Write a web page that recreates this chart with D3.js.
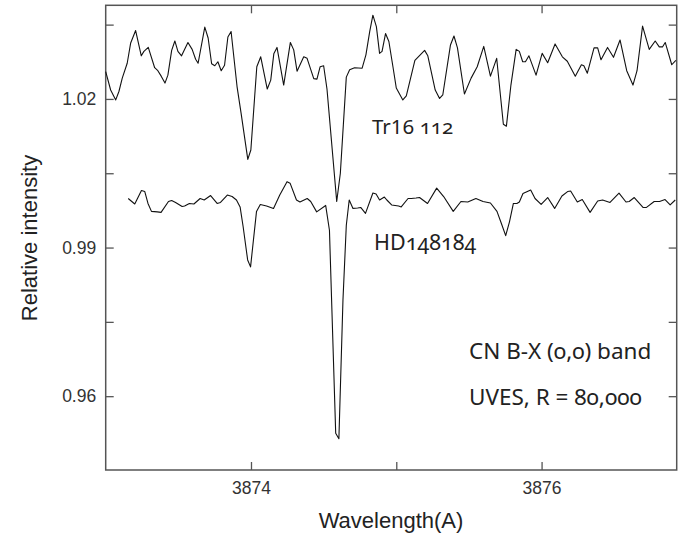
<!DOCTYPE html>
<html>
<head>
<meta charset="utf-8">
<script src="https://cdn.jsdelivr.net/npm/d3@7"></script>
<style>
  body { margin: 0; background: #fff; }
  .tickText { font-family: "Liberation Sans", Arial, sans-serif; font-size: 17.5px; fill: #333; }
  .aText { font-family: "Liberation Sans", Arial, sans-serif; font-size: 22px; fill: #222; }
  .note { font-family: "Noto Sans", "Open Sans", sans-serif; font-size: 20.5px; fill: #222; font-variant-numeric: oldstyle-nums; }
  .note.big { font-size: 22.5px; }
</style>
</head>
<body>
<div id="chart"></div>
<script>
// Tr16 112 spectrum (upper curve)
var tr16Wave = [3873.000, 3873.034, 3873.069, 3873.091, 3873.114, 3873.148, 3873.172, 3873.206, 3873.245, 3873.263,
  3873.293, 3873.337, 3873.359, 3873.382, 3873.408, 3873.428, 3873.454, 3873.476, 3873.497, 3873.522,
  3873.566, 3873.595, 3873.619, 3873.636, 3873.682, 3873.705, 3873.729, 3873.751, 3873.772, 3873.795,
  3873.818, 3873.841, 3873.863, 3873.904, 3873.932, 3873.978, 3873.999, 3874.040, 3874.067, 3874.112,
  3874.136, 3874.157, 3874.179, 3874.225, 3874.271, 3874.294, 3874.317, 3874.363, 3874.386, 3874.432,
  3874.454, 3874.476, 3874.500, 3874.523, 3874.590, 3874.615, 3874.656, 3874.679, 3874.713, 3874.765,
  3874.791, 3874.817, 3874.839, 3874.863, 3874.885, 3874.902, 3874.926, 3874.949, 3874.977, 3875.000,
  3875.045, 3875.069, 3875.128, 3875.195, 3875.217, 3875.268, 3875.298, 3875.320, 3875.373, 3875.397,
  3875.421, 3875.469, 3875.515, 3875.557, 3875.602, 3875.648, 3875.691, 3875.737, 3875.758, 3875.789,
  3875.825, 3875.847, 3875.870, 3875.889, 3875.913, 3875.962, 3876.004, 3876.042, 3876.093, 3876.143,
  3876.177, 3876.232, 3876.274, 3876.291, 3876.315, 3876.361, 3876.386, 3876.409, 3876.454, 3876.495,
  3876.540, 3876.586, 3876.629, 3876.657, 3876.695, 3876.741, 3876.782, 3876.810, 3876.832, 3876.851,
  3876.896, 3876.924];
var tr16Flux = [1.0255, 1.0218, 1.0198, 1.0215, 1.0242, 1.0272, 1.0313, 1.0338, 1.0287, 1.0296,
  1.0304, 1.0263, 1.0257, 1.0246, 1.0232, 1.0248, 1.0298, 1.0317, 1.0296, 1.0287,
  1.0314, 1.0300, 1.0280, 1.0272, 1.0345, 1.0323, 1.0271, 1.0267, 1.0275, 1.0257,
  1.0268, 1.0325, 1.0336, 1.0225, 1.0171, 1.0078, 1.0097, 1.0265, 1.0285, 1.0220,
  1.0238, 1.0291, 1.0304, 1.0228, 1.0314, 1.0299, 1.0256, 1.0285, 1.0282, 1.0241,
  1.0240, 1.0265, 1.0267, 1.0220, 0.9993, 1.0050, 1.0244, 1.0259, 1.0263, 1.0262,
  1.0289, 1.0336, 1.0369, 1.0346, 1.0292, 1.0296, 1.0332, 1.0316, 1.0265, 1.0222,
  1.0198, 1.0206, 1.0278, 1.0298, 1.0287, 1.0218, 1.0201, 1.0208, 1.0309, 1.0327,
  1.0303, 1.0210, 1.0242, 1.0265, 1.0306, 1.0246, 1.0282, 1.0149, 1.0145, 1.0228,
  1.0300, 1.0296, 1.0275, 1.0275, 1.0287, 1.0248, 1.0292, 1.0273, 1.0311, 1.0285,
  1.0276, 1.0246, 1.0269, 1.0267, 1.0252, 1.0303, 1.0303, 1.0279, 1.0304, 1.0284,
  1.0319, 1.0257, 1.0228, 1.0257, 1.0347, 1.0300, 1.0317, 1.0305, 1.0305, 1.0314,
  1.0269, 1.0278];

// HD148184 spectrum (lower curve)
var hdWave = [3873.155, 3873.200, 3873.246, 3873.269, 3873.291, 3873.315, 3873.355, 3873.381, 3873.432, 3873.454,
  3873.481, 3873.526, 3873.543, 3873.576, 3873.607, 3873.650, 3873.678, 3873.722, 3873.767, 3873.790,
  3873.837, 3873.870, 3873.900, 3873.925, 3873.946, 3873.977, 3873.997, 3874.038, 3874.064, 3874.107,
  3874.155, 3874.198, 3874.248, 3874.269, 3874.313, 3874.337, 3874.387, 3874.411, 3874.452, 3874.514,
  3874.540, 3874.583, 3874.605, 3874.633, 3874.656, 3874.676, 3874.702, 3874.734, 3874.755, 3874.788,
  3874.839, 3874.861, 3874.885, 3874.918, 3874.935, 3874.968, 3875.016, 3875.034, 3875.081, 3875.103,
  3875.136, 3875.160, 3875.215, 3875.278, 3875.326, 3875.392, 3875.445, 3875.492, 3875.548, 3875.597,
  3875.648, 3875.693, 3875.724, 3875.753, 3875.779, 3875.806, 3875.830, 3875.847, 3875.872, 3875.925,
  3875.955, 3875.997, 3876.042, 3876.090, 3876.140, 3876.179, 3876.200, 3876.246, 3876.280, 3876.334,
  3876.386, 3876.420, 3876.471, 3876.533, 3876.581, 3876.603, 3876.638, 3876.698, 3876.722, 3876.775,
  3876.812, 3876.850, 3876.885, 3876.920];
var hdFlux = [0.9999, 0.9988, 1.0015, 1.0013, 0.9989, 0.9973, 0.9972, 0.9971, 0.9993, 0.9995,
  0.9991, 0.9983, 0.9984, 0.9989, 0.9988, 0.9999, 0.9996, 1.0005, 0.9989, 0.9991,
  1.0006, 1.0003, 0.9996, 0.9982, 0.9942, 0.9875, 0.9861, 0.9973, 0.9987, 0.9984,
  0.9979, 1.0006, 1.0033, 1.0030, 0.9996, 0.9992, 0.9999, 0.9993, 0.9972, 0.9985,
  0.9935, 0.9525, 0.9514, 0.9794, 0.9945, 0.9996, 0.9979, 0.9980, 0.9981, 0.9969,
  1.0010, 1.0008, 0.9996, 1.0002, 0.9996, 0.9986, 0.9984, 0.9982, 0.9999, 0.9999,
  1.0000, 1.0001, 0.9989, 1.0020, 1.0003, 0.9973, 0.9993, 0.9992, 0.9999, 0.9993,
  0.9990, 0.9973, 0.9948, 0.9924, 0.9952, 0.9989, 0.9989, 0.9992, 1.0009, 1.0016,
  0.9999, 0.9987, 1.0001, 0.9979, 1.0004, 1.0013, 1.0014, 0.9992, 0.9997, 0.9971,
  0.9994, 0.9996, 0.9991, 1.0010, 0.9992, 0.9993, 1.0001, 0.9981, 0.9981, 0.9993,
  0.9993, 0.9997, 0.9986, 0.9996];

var xTicks = [3874, 3875, 3876];
var xLabels = [3874, 3876];
var yTicks = [0.96, 0.975, 0.99, 1.005, 1.02, 1.035];
var yLabels = [0.96, 0.99, 1.02];

var svgWidth = 690;
var svgHeight = 533;
var margin = { top: 5.3, right: 13.3, bottom: 63, left: 105.7 };
var width = svgWidth - margin.left - margin.right;
var height = svgHeight - margin.top - margin.bottom;

var svg = d3.select("#chart")
  .append("svg")
  .attr("width", svgWidth)
  .attr("height", svgHeight);

var chartGroup = svg.append("g")
  .attr("transform", `translate(${margin.left}, ${margin.top})`);

var xScale = d3.scaleLinear().domain([3873, 3876.93]).range([0, width]);
var yScale = d3.scaleLinear().domain([0.9451, 1.0389]).range([height, 0]);

function fmtY(d) { return yLabels.indexOf(d) >= 0 ? d3.format(".2f")(d) : ""; }
function fmtX(d) { return xLabels.indexOf(d) >= 0 ? d : ""; }

// axes, ticks point inward
var bottomAxis = d3.axisBottom(xScale).tickValues(xTicks).tickFormat(fmtX)
  .tickSizeInner(-8).tickSizeOuter(0).tickPadding(12);
var topAxis = d3.axisTop(xScale).tickValues(xTicks).tickFormat("")
  .tickSizeInner(-8).tickSizeOuter(0);
var leftAxis = d3.axisLeft(yScale).tickValues(yTicks).tickFormat(fmtY)
  .tickSizeInner(-8).tickSizeOuter(0).tickPadding(9.5);
var rightAxis = d3.axisRight(yScale).tickValues(yTicks).tickFormat("")
  .tickSizeInner(-8).tickSizeOuter(0);

function styleAxis(g) {
  g.select(".domain").remove();
  g.selectAll(".tick line").attr("stroke", "#555").attr("stroke-width", 1.3);
  g.selectAll(".tick text").attr("class", "tickText").attr("font-family", null).attr("font-size", null);
  g.attr("font-family", null).attr("font-size", null);
}

chartGroup.append("g").attr("transform", `translate(0, ${height})`).call(bottomAxis).call(styleAxis);
chartGroup.append("g").call(topAxis).call(styleAxis);
chartGroup.append("g").call(leftAxis).call(styleAxis);
chartGroup.append("g").attr("transform", `translate(${width}, 0)`).call(rightAxis).call(styleAxis);

chartGroup.append("rect")
  .attr("width", width)
  .attr("height", height)
  .attr("fill", "none")
  .attr("stroke", "#555")
  .attr("stroke-width", 1.5);

// spectra
var line = d3.line()
  .x(d => xScale(d[0]))
  .y(d => yScale(d[1]));

var tr16 = d3.zip(tr16Wave, tr16Flux);
var hd = d3.zip(hdWave, hdFlux);

[tr16, hd].forEach(function(series) {
  chartGroup.append("path")
    .datum(series)
    .attr("d", line)
    .attr("fill", "none")
    .attr("stroke", "#111")
    .attr("stroke-width", 1.1)
    .attr("stroke-linejoin", "round");
});

// annotations
var t1 = svg.append("text").attr("class", "note").attr("x", 372).attr("y", 134);
t1.append("tspan").style("font-variant-numeric", "lining-nums").text("Tr16");
t1.append("tspan").text(" 112");
svg.append("text").attr("class", "note").style("font-size", "21.5px")
  .attr("x", 374).attr("y", 250).text("HD148184");
svg.append("text").attr("class", "note big").attr("x", 469).attr("y", 359).text("CN B-X (0,0) band");
svg.append("text").attr("class", "note big").attr("x", 469).attr("y", 405).text("UVES, R = 80,000");

// axis titles
svg.append("text")
  .attr("class", "aText")
  .attr("text-anchor", "middle")
  .attr("transform", "translate(37, 238) rotate(-90)")
  .text("Relative intensity");

svg.append("text")
  .attr("class", "aText")
  .attr("text-anchor", "middle")
  .attr("x", 391)
  .attr("y", 528)
  .text("Wavelength(A)");
</script>
</body>
</html>
